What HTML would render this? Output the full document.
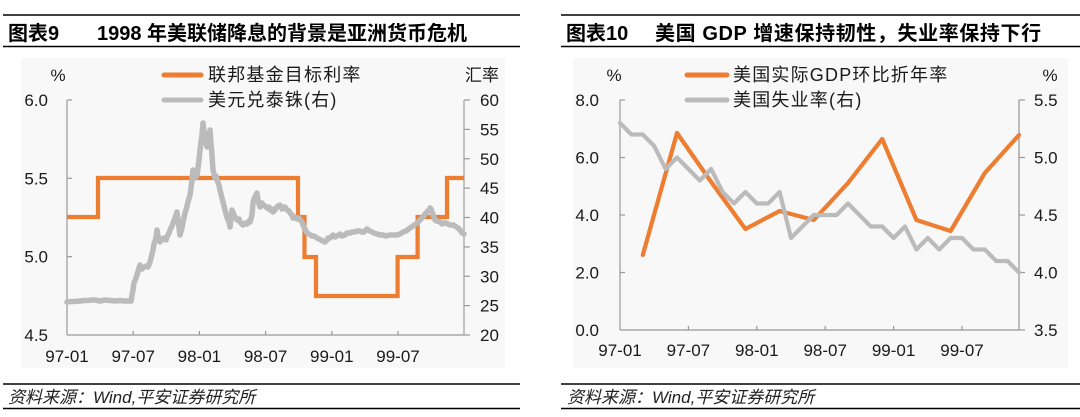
<!DOCTYPE html>
<html>
<head>
<meta charset="utf-8">
<style>
html,body{margin:0;padding:0;background:#fff;}
svg{display:block;}
text{font-family:"Liberation Sans","Noto Sans CJK SC",sans-serif;fill:#1a1a1a;}
.t{font-size:20px;font-weight:bold;fill:#000;}
.lg{font-size:18px;letter-spacing:1.2px;}
.tk{font-size:17px;}
.ft{font-size:17px;font-style:italic;letter-spacing:0px;fill:#222;}
</style>
</head>
<body>
<svg width="1080" height="417" viewBox="0 0 1080 417" xmlns="http://www.w3.org/2000/svg">
  <!-- ===== LEFT CHART ===== -->
  <line x1="3" y1="15" x2="520" y2="15" stroke="#000" stroke-width="1.6"/>
  <line x1="3" y1="46.5" x2="520" y2="46.5" stroke="#000" stroke-width="1.6"/>
  <text class="t" x="8" y="40">图表9</text>
  <text class="t" x="97" y="40">1998 年美联储降息的背景是亚洲货币危机</text>

  <rect x="21" y="58" width="484" height="310" fill="#f8f8f8"/>

  <!-- legend -->
  <line x1="164" y1="75" x2="201" y2="75" stroke="#ED7D31" stroke-width="5" stroke-linecap="round"/>
  <text class="lg" x="208" y="81">联邦基金目标利率</text>
  <line x1="164" y1="100" x2="201" y2="100" stroke="#BBBBBB" stroke-width="5" stroke-linecap="round"/>
  <text class="lg" x="208" y="106">美元兑泰铢(右)</text>
  <text class="tk" x="58" y="81" text-anchor="middle">%</text>
  <text class="tk" x="465" y="81">汇率</text>

  <!-- axes -->
  <line x1="67" y1="100" x2="67" y2="335" stroke="#999" stroke-width="1.2"/>
  <line x1="464" y1="100" x2="464" y2="335" stroke="#aaa" stroke-width="1.4"/>
  <line x1="67" y1="335" x2="464" y2="335" stroke="#999" stroke-width="1.2"/>
  <g stroke="#999" stroke-width="1.2">
    <line x1="67" y1="100" x2="72" y2="100"/>
    <line x1="67" y1="178.3" x2="72" y2="178.3"/>
    <line x1="67" y1="256.7" x2="72" y2="256.7"/>
    <line x1="464" y1="100" x2="470" y2="100"/>
    <line x1="464" y1="129.4" x2="470" y2="129.4"/>
    <line x1="464" y1="158.75" x2="470" y2="158.75"/>
    <line x1="464" y1="188.1" x2="470" y2="188.1"/>
    <line x1="464" y1="217.5" x2="470" y2="217.5"/>
    <line x1="464" y1="246.9" x2="470" y2="246.9"/>
    <line x1="464" y1="276.25" x2="470" y2="276.25"/>
    <line x1="464" y1="305.6" x2="470" y2="305.6"/>
    <line x1="464" y1="335" x2="470" y2="335"/>
    <line x1="133.2" y1="331" x2="133.2" y2="335"/>
    <line x1="199.4" y1="331" x2="199.4" y2="335"/>
    <line x1="265.6" y1="331" x2="265.6" y2="335"/>
    <line x1="331.8" y1="331" x2="331.8" y2="335"/>
    <line x1="398" y1="331" x2="398" y2="335"/>
  </g>
  <text class="tk" x="48" y="106" text-anchor="end">6.0</text>
  <text class="tk" x="48" y="184.3" text-anchor="end">5.5</text>
  <text class="tk" x="48" y="262.7" text-anchor="end">5.0</text>
  <text class="tk" x="48" y="341" text-anchor="end">4.5</text>
  <text class="tk" x="480" y="106">60</text>
  <text class="tk" x="480" y="135.4">55</text>
  <text class="tk" x="480" y="164.75">50</text>
  <text class="tk" x="480" y="194.1">45</text>
  <text class="tk" x="480" y="223.5">40</text>
  <text class="tk" x="480" y="252.9">35</text>
  <text class="tk" x="480" y="282.25">30</text>
  <text class="tk" x="480" y="311.6">25</text>
  <text class="tk" x="480" y="341">20</text>
  <text class="tk" x="67" y="362" text-anchor="middle">97-01</text>
  <text class="tk" x="133.2" y="362" text-anchor="middle">97-07</text>
  <text class="tk" x="199.4" y="362" text-anchor="middle">98-01</text>
  <text class="tk" x="265.6" y="362" text-anchor="middle">98-07</text>
  <text class="tk" x="331.8" y="362" text-anchor="middle">99-01</text>
  <text class="tk" x="398" y="362" text-anchor="middle">99-07</text>

  <!-- fed funds step line -->
  <polyline fill="none" stroke="#ED7D31" stroke-width="4.2" stroke-linejoin="miter"
    points="67,217 98,217 98,178 298,178 298,217 304.5,217 304.5,257 316,257 316,296 397.6,296 397.6,257 417.6,257 417.6,217 447,217 447,178 464,178"/>

  <!-- THB line -->
  <polyline fill="none" stroke="#BBBBBB" stroke-width="5.5" stroke-linejoin="round" stroke-linecap="round"
    points="67,302 71,301.5 75,301.5 80,301 84,300.5 88,300.5 92,300 95,300 100,301 105,300 110,300.5 115,301 120,300.5 125,301 131,301 133,290 134,283 136,278 137,275 139,268 140,265 142,269 143,268 146,266 148,267 150,262 151,258 153,250 154,244 156,238 157,230 158,236 160,242 162,239 164,238 166,240 167,237 169,233 170,230 172,226 173,223 175,218 177,212 178,220 179,228 180,235 182,228 183,222 185,213 186,210 188,202 190,195 191,188 192,180 193,170 194,176 195,178 197,175 198,168 199,160 200,150 201,142 202,135 203,123 204,132 205,140 207,147 208,140 209,135 210,130 211,143 212,155 213,170 215,178 216,176 217,180 219,185 220,190 221,194 222,198 223,202 225,210 226,214 227,217 228,220 229,222 230,227 231,218 232,210 234,215 235,217 237,220 239,219 240,222 242,224 243,225 245,223 247,224 249,221 250,222 252,215 253,203 254,199 255,197 257,193 258,200 260,207 262,203 263,205 265,206 267,208 269,207 270,210 272,209 273,212 275,210 277,207 278,206 280,205 282,209 283,208 285,207 287,210 289,211 290,213 292,215 293,218 295,217 297,219 299,218 300,220 302,222 303,225 305,229 307,233 309,234 312,236 314,236 317,238 319,239 321,240 323,241 325,242 327,240 328,238 330,238 333,235 335,237 337,236 339,235 340,234 342,236 345,235 347,233 350,233 352,232 355,232 357,231 360,231 362,232 364,232 366,230 367,229 370,231 372,232 374,233 377,234 380,235 383,235 386,236 390,235 393,235 397,235 400,234 403,232 406,231 410,228 413,226 417,223 420,220 423,217 425,214 427,212 429,210 430,208 431,209 432,212 434,217 435,220 437,221 440,222 442,224 443,223 446,223 448,224 450,225 453,225 455,226 458,228 460,230 462,233 464,234"/>

  <!-- footer left -->
  <line x1="3" y1="384" x2="520" y2="384" stroke="#000" stroke-width="1.6"/>
  <line x1="3" y1="408.5" x2="520" y2="408.5" stroke="#000" stroke-width="1.6"/>
  <text class="ft" x="8" y="403">资料来源：Wind,平安证券研究所</text>

  <!-- ===== RIGHT CHART ===== -->
  <line x1="561" y1="15" x2="1080" y2="15" stroke="#000" stroke-width="1.6"/>
  <line x1="561" y1="46.5" x2="1080" y2="46.5" stroke="#000" stroke-width="1.6"/>
  <text class="t" x="566" y="40">图表10</text>
  <text class="t" x="655" y="40" style="letter-spacing:0.6px">美国 GDP 增速保持韧性，失业率保持下行</text>

  <rect x="573" y="58" width="495" height="310" fill="#f8f8f8"/>

  <line x1="687" y1="75" x2="727" y2="75" stroke="#ED7D31" stroke-width="5" stroke-linecap="round"/>
  <text class="lg" x="733" y="81">美国实际GDP环比折年率</text>
  <line x1="687" y1="100" x2="727" y2="100" stroke="#BBBBBB" stroke-width="5" stroke-linecap="round"/>
  <text class="lg" x="733" y="106">美国失业率(右)</text>
  <text class="tk" x="614" y="81" text-anchor="middle">%</text>
  <text class="tk" x="1050" y="81" text-anchor="middle">%</text>

  <line x1="620" y1="100" x2="620" y2="330" stroke="#999" stroke-width="1.2"/>
  <line x1="1019" y1="100" x2="1019" y2="330" stroke="#bbb" stroke-width="2"/>
  <line x1="620" y1="330" x2="1019" y2="330" stroke="#999" stroke-width="1.2"/>
  <g stroke="#999" stroke-width="1.2">
    <line x1="620" y1="100" x2="625" y2="100"/>
    <line x1="620" y1="157.5" x2="625" y2="157.5"/>
    <line x1="620" y1="215" x2="625" y2="215"/>
    <line x1="620" y1="272.5" x2="625" y2="272.5"/>
    <line x1="1019" y1="100" x2="1025" y2="100"/>
    <line x1="1019" y1="157.5" x2="1025" y2="157.5"/>
    <line x1="1019" y1="215" x2="1025" y2="215"/>
    <line x1="1019" y1="272.5" x2="1025" y2="272.5"/>
    <line x1="1019" y1="330" x2="1025" y2="330"/>
    <line x1="688.4" y1="326" x2="688.4" y2="330"/>
    <line x1="756.8" y1="326" x2="756.8" y2="330"/>
    <line x1="825.2" y1="326" x2="825.2" y2="330"/>
    <line x1="893.6" y1="326" x2="893.6" y2="330"/>
    <line x1="962" y1="326" x2="962" y2="330"/>
  </g>
  <text class="tk" x="599" y="106" text-anchor="end">8.0</text>
  <text class="tk" x="599" y="163.5" text-anchor="end">6.0</text>
  <text class="tk" x="599" y="221" text-anchor="end">4.0</text>
  <text class="tk" x="599" y="278.5" text-anchor="end">2.0</text>
  <text class="tk" x="599" y="336" text-anchor="end">0.0</text>
  <text class="tk" x="1034" y="106">5.5</text>
  <text class="tk" x="1034" y="163.5">5.0</text>
  <text class="tk" x="1034" y="221">4.5</text>
  <text class="tk" x="1034" y="278.5">4.0</text>
  <text class="tk" x="1034" y="336">3.5</text>
  <text class="tk" x="620" y="356" text-anchor="middle">97-01</text>
  <text class="tk" x="688.4" y="356" text-anchor="middle">97-07</text>
  <text class="tk" x="756.8" y="356" text-anchor="middle">98-01</text>
  <text class="tk" x="825.2" y="356" text-anchor="middle">98-07</text>
  <text class="tk" x="893.6" y="356" text-anchor="middle">99-01</text>
  <text class="tk" x="962" y="356" text-anchor="middle">99-07</text>

  <!-- GDP -->
  <polyline fill="none" stroke="#ED7D31" stroke-width="4.2" stroke-linejoin="round" stroke-linecap="round"
    points="642.8,255 677,133 711.2,182 745.4,229 779.6,211 813.8,220 848,183 882.2,139 916.4,220 950.6,231 984.8,173 1019,135"/>

  <!-- Unemployment -->
  <polyline fill="none" stroke="#BBBBBB" stroke-width="4.2" stroke-linejoin="round" stroke-linecap="round"
    points="620,123 631.4,134.5 642.8,134.5 654.2,146 665.6,169 677,157.5 688.4,169 699.8,180.5 711.2,169 722.6,192 734,203.5 745.4,192 756.8,203.5 768.2,203.5 779.6,192 791,238 802.4,226.5 813.8,215 825.2,215 836.6,215 848,203.5 859.4,215 870.8,226.5 882.2,226.5 893.6,238 905,226.5 916.4,249.5 927.8,238 939.2,249.5 950.6,238 962,238 973.4,249.5 984.8,249.5 996.2,261 1007.6,261 1019,272.5"/>

  <line x1="561" y1="384" x2="1080" y2="384" stroke="#000" stroke-width="1.6"/>
  <line x1="561" y1="408.5" x2="1080" y2="408.5" stroke="#000" stroke-width="1.6"/>
  <text class="ft" x="567" y="403">资料来源：Wind,平安证券研究所</text>
</svg>
</body>
</html>
